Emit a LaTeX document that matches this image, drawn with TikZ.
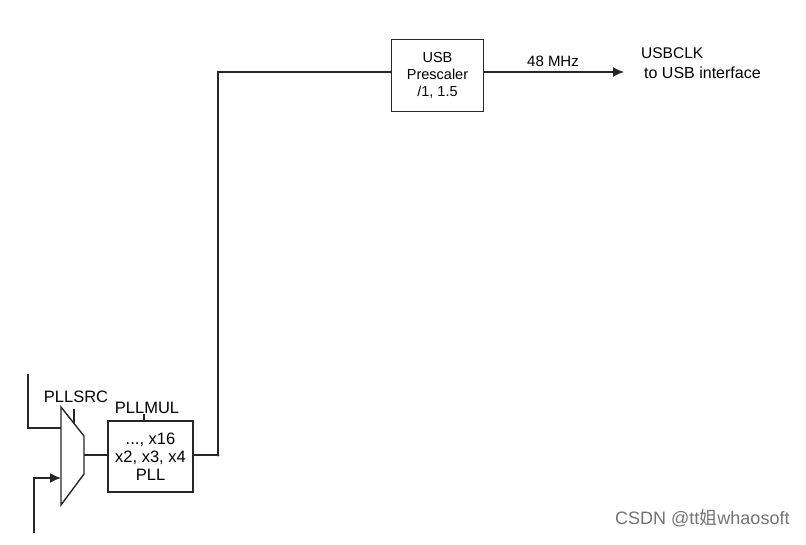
\documentclass[tikz,border=0pt]{standalone}
\usepackage{fontspec}
\setmainfont{Liberation Sans}
\newfontfamily\cjk{Noto Sans CJK SC}
\usetikzlibrary{arrows.meta}
\begin{document}
\begin{tikzpicture}[x=1pt,y=-1pt,
  wire/.style={line width=1.4pt, black!85},
  blk/.style={draw=black!85, line width=1.4pt, rectangle, inner sep=0pt, align=center},
  lbl/.style={inner sep=0pt, anchor=base},
  tip/.style={-{Latex[length=11pt,width=10pt]}}]
\useasboundingbox (0,0) rectangle (806,544);
% mux
\coordinate (m1) at (61,407);
\coordinate (m2) at (84,436);
\coordinate (m3) at (84,474);
\coordinate (m4) at (61,505);
\draw[wire] (m1) -- (m2) -- (m3) -- (m4) -- cycle;
\coordinate (muxin1) at (61,428);
\coordinate (muxin2) at (61,478);
\coordinate (muxout) at (84,455);
\coordinate (sel) at (74,423);
\coordinate (selt) at (74,409);
\node[lbl, font=\fontsize{16.5}{18}\selectfont] (pllsrc) at (76,402) {PLLSRC};
\draw[wire] (selt) -- (sel);
% inputs
\coordinate (in1) at (28,374);
\draw[wire] (in1) |- (muxin1);
\coordinate (in2) at (34,533);
\draw[wire, tip] (in2) |- (muxin2);
% PLL
\node[blk, minimum width=85pt, minimum height=71pt, font=\fontsize{16.5}{18}\selectfont] (pll) at (150.5,456.5) {..., x16\\x2, x3, x4\\PLL};
\node[lbl, font=\fontsize{16.5}{18}\selectfont] (pllmul) at (147,413) {PLLMUL};
\coordinate (mult) at (144,414);
\draw[wire] (mult) -- (pll.north -| mult);
\draw[wire] (muxout) -- (pll.west |- muxout);
% junction and route up
\coordinate (j) at (218,455);
\draw[wire] (pll.east |- j) -- (j);
\fill[black!85] (j) circle (1.7pt);
% USB prescaler
\node[blk, minimum width=92pt, minimum height=72pt, font=\fontsize{14.5}{17}\selectfont] (pre) at (437.5,75.5) {USB\\Prescaler\\/1, 1.5};
\draw[wire] (j) |- (pre.west |- 0,72);
\coordinate (out) at (624,72);
\draw[wire, tip] (pre.east |- out) -- (out);
\node[lbl, font=\fontsize{15}{17}\selectfont] (mhz) at (553,66) {48 MHz};
\node[inner sep=0pt, anchor=base west, font=\fontsize{15.5}{18}\selectfont] (usbclk) at (641,58) {USBCLK};
\node[inner sep=0pt, anchor=base west, font=\fontsize{16}{18}\selectfont] (usbif) at (644,78) {to USB interface};
% watermark
\node[inner sep=0pt, anchor=base west, text=black!55, font=\fontsize{18}{20}\selectfont] (wm) at (615,524) {CSDN @tt{\cjk 姐}whaosoft};
\end{tikzpicture}
\end{document}
